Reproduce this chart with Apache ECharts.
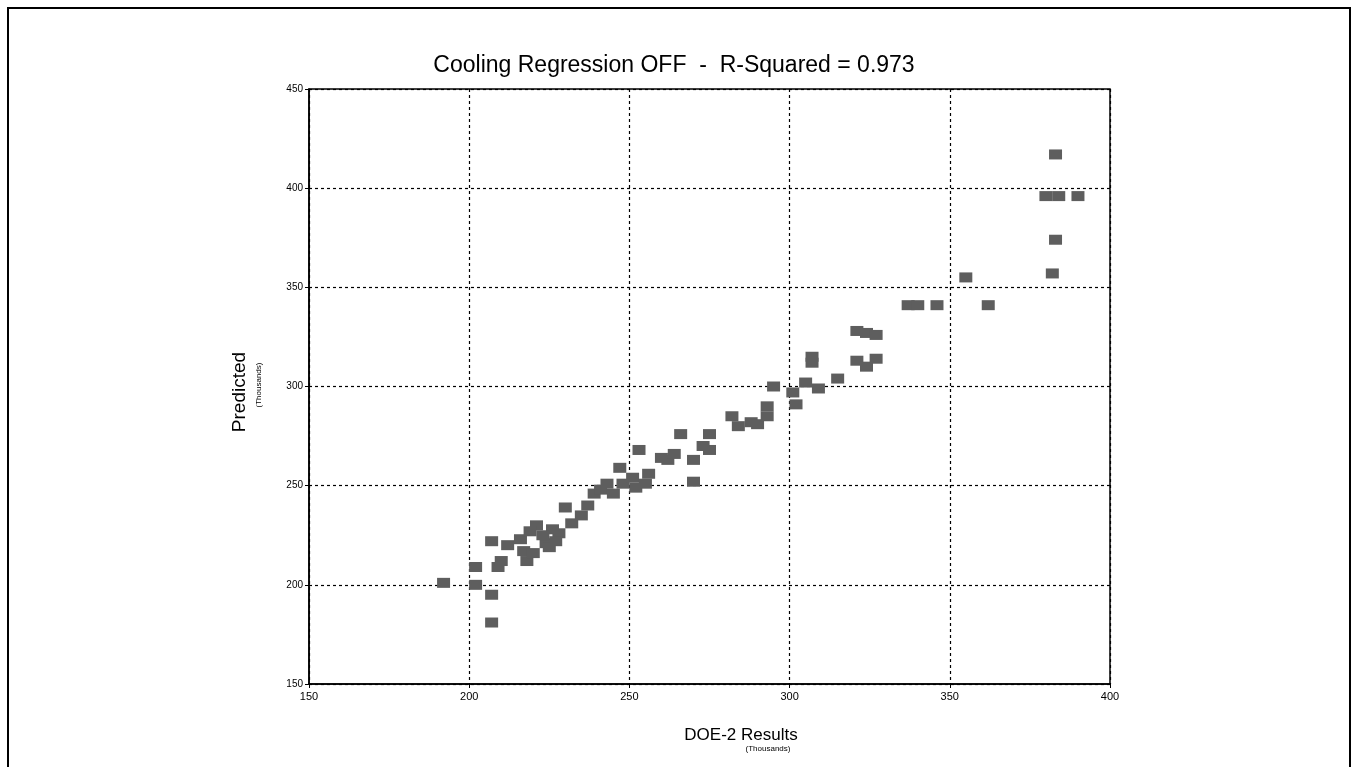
<!DOCTYPE html>
<html>
<head>
<meta charset="utf-8">
<script src="https://cdn.jsdelivr.net/npm/echarts@6/dist/echarts.min.js"></script>
<style>
  html, body { margin: 0; padding: 0; background: #fff; }
  #chart { width: 1352px; height: 767px; }
</style>
</head>
<body>
<div id="chart"></div>
<script>
  // DOE-2 results (x) vs predicted (y), thousands
  var doe2 = [192, 202, 202, 207, 207, 207, 209, 210, 212, 216, 218, 217, 220, 221, 224, 226, 223, 219, 228, 225,
    227, 230, 232, 235, 237, 239, 241, 243, 245, 247, 253, 248, 251, 255, 256, 252, 260, 262, 264, 266,
    270, 270, 273, 275, 275, 282, 284, 288, 290, 293, 293, 295, 301, 302, 305, 309, 307, 307, 315, 321,
    324, 327, 321, 324, 327, 337, 340, 346, 355, 362, 383, 380, 384, 390, 383, 382];
  var predicted = [201, 209, 200, 195, 181, 222, 209, 212, 220, 223, 212, 217, 216, 230, 221, 228, 225, 227, 226, 219,
    222, 239, 231, 235, 240, 246, 248, 251, 246, 259, 268, 251, 254, 251, 256, 249, 264, 263, 266, 276,
    252, 263, 270, 268, 276, 285, 280, 282, 281, 290, 285, 300, 297, 291, 302, 299, 315, 312, 304, 313,
    310, 314, 328, 327, 326, 341, 341, 341, 355, 341, 417, 396, 396, 396, 374, 357];
  var titleText = 'Cooling Regression OFF  -  R-Squared = 0.973';

  var points = [];
  for (var i = 0; i < doe2.length; i++) {
    points.push([doe2[i], predicted[i]]);
  }

  var myChart = echarts.init(document.getElementById('chart'));
  var option = {
    backgroundColor: '#fff',
    animation: false,
    textStyle: { fontFamily: 'Liberation Sans, Arial, sans-serif', color: '#000' },
    grid: {
      left: 309, right: 242, top: 89, bottom: 83,
      show: true, borderColor: '#000', borderWidth: 1.5
    },
    xAxis: {
      type: 'value', min: 150, max: 400, interval: 50,
      axisLine: { lineStyle: { color: '#000', width: 1.5 } },
      axisTick: { show: true, length: 4, lineStyle: { color: '#000' } },
      axisLabel: { color: '#000', fontSize: 11, margin: 7 },
      splitLine: { lineStyle: { color: '#000', type: [3, 3], width: 1.2 } }
    },
    yAxis: {
      type: 'value', min: 150, max: 450, interval: 50,
      axisLine: { show: true, lineStyle: { color: '#000', width: 1.5 } },
      axisTick: { show: true, length: 4, lineStyle: { color: '#000' } },
      axisLabel: { color: '#000', fontSize: 10, margin: 6 },
      splitLine: { lineStyle: { color: '#000', type: [3, 3], width: 1.2 } }
    },
    graphic: [
      { type: 'rect', shape: { x: 8, y: 8, width: 1342, height: 820 },
        style: { fill: 'none', stroke: '#000', lineWidth: 2 } },
      { type: 'text', x: 674, y: 66,
        style: { text: titleText, font: '23px Liberation Sans, Arial, sans-serif', fill: '#000',
          textAlign: 'center', textVerticalAlign: 'middle' } },
      { type: 'text', x: 741, y: 735,
        style: { text: 'DOE-2 Results', font: '17px Liberation Sans, Arial, sans-serif', fill: '#000',
          textAlign: 'center', textVerticalAlign: 'middle' } },
      { type: 'text', x: 768, y: 749,
        style: { text: '(Thousands)', font: '8px Liberation Sans, Arial, sans-serif', fill: '#000',
          textAlign: 'center', textVerticalAlign: 'middle' } },
      { type: 'text', x: 240, y: 392, rotation: Math.PI / 2,
        style: { text: 'Predicted', font: '19px Liberation Sans, Arial, sans-serif', fill: '#000',
          textAlign: 'center', textVerticalAlign: 'middle' } },
      { type: 'text', x: 259, y: 385, rotation: Math.PI / 2,
        style: { text: '(Thousands)', font: '8px Liberation Sans, Arial, sans-serif', fill: '#000',
          textAlign: 'center', textVerticalAlign: 'middle' } }
    ],
    series: [
      {
        type: 'scatter',
        data: points,
        symbol: 'rect',
        symbolSize: [13, 10],
        itemStyle: { color: '#5e5e5e', opacity: 1 }
      }
    ]
  };
  myChart.setOption(option);
</script>
</body>
</html>
